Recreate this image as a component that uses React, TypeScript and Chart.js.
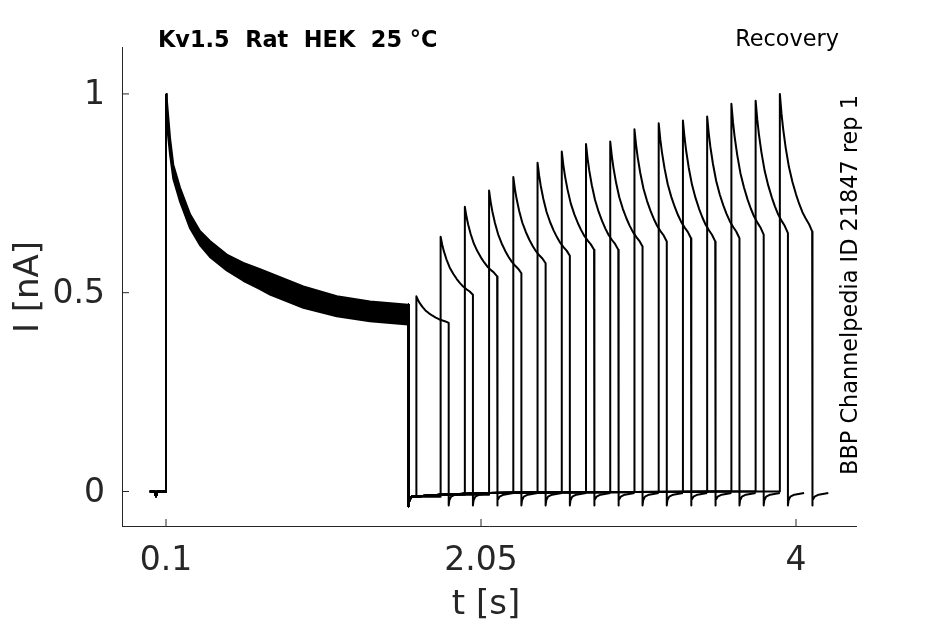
import { useEffect, useRef } from "react"
import { Chart, registerables } from "chart.js"

Chart.register(...registerables)

const FONT = "'DejaVu Sans', sans-serif"
const INK = "#262626"

// axis ticks
const xTicks = [0.1, 2.05, 4]
const yTicks = [0, 0.5, 1]

// holding level before the conditioning pulse (t in s, I in nA)
const preT = [0, 0.03, 0.038, 0.046, 0.1]
const preI = [0, 0, -0.012, 0, 0]

// conditioning pulse: upper and lower edge of the band made by all sweeps
const mainT = [0.1, 0.104, 0.125, 0.145, 0.187, 0.249, 0.31, 0.372, 0.476, 0.579, 0.682, 0.744, 0.95, 1.157, 1.363, 1.598]
const mainTop = [1.0, 0.99, 0.889, 0.822, 0.764, 0.697, 0.655, 0.63, 0.596, 0.575, 0.559, 0.549, 0.516, 0.491, 0.478, 0.47]
const mainBottom = [1.0, 0.93, 0.848, 0.787, 0.729, 0.662, 0.62, 0.59, 0.556, 0.53, 0.509, 0.495, 0.462, 0.441, 0.428, 0.42]
const mainEnd = 1.6

// tail after the conditioning pulse and the slow return of the baseline
const recovT = [1.6, 1.606, 1.62, 1.8, 2.1, 2.5, 3.0, 3.5, 4.0]
const recovI = [-0.037, -0.022, -0.013, -0.008, -0.004, -0.002, -0.001, 0, 0]

// test pulses, one per sweep
const testStart = [1.65, 1.8, 1.95, 2.1, 2.25, 2.4, 2.55, 2.7, 2.85, 3.0, 3.15, 3.3, 3.45, 3.6, 3.75, 3.9]
const testPeak = [0.491, 0.641, 0.716, 0.757, 0.791, 0.827, 0.855, 0.874, 0.88, 0.911, 0.926, 0.933, 0.943, 0.975, 0.983, 1.0]
const testEnd = [0.424, 0.495, 0.541, 0.549, 0.574, 0.593, 0.608, 0.608, 0.616, 0.629, 0.637, 0.629, 0.637, 0.646, 0.65, 0.654]
const testDur = 0.2

// decay during a test pulse: part of (peak - end) left, against part of the pulse
const profT = [0, 0.05, 0.1, 0.18, 0.28, 0.39, 0.5, 0.6, 0.7, 0.81, 0.9, 1.0]
const profF = [1, 0.86, 0.75, 0.61, 0.47, 0.36, 0.27, 0.2, 0.14, 0.09, 0.055, 0]

// tail after a test pulse, time from the pulse end
const tailT = [0, 0.004, 0.015, 0.04, 0.1]
const tailI = [-0.035, -0.022, -0.013, -0.008, -0.004]

type Pt = { x: number; y: number | null }

function sweepPoints(k: number): Pt[] {
  const pts: Pt[] = []
  preT.forEach((t, i) => pts.push({ x: t, y: preI[i] }))
  pts.push({ x: mainT[0], y: mainTop[0] })
  // the conditioning pulse itself is the filled band
  pts.push({ x: mainT[1], y: null })
  pts.push({ x: mainEnd, y: mainTop[mainTop.length - 1] })

  const start = testStart[k]
  let last = recovI[0]
  recovT.forEach((t, i) => {
    if (t < start) {
      pts.push({ x: t, y: recovI[i] })
      last = recovI[i]
    }
  })
  pts.push({ x: start, y: last })
  const peak = testPeak[k]
  const end = testEnd[k]
  profT.forEach((f, i) => pts.push({ x: start + f * testDur, y: end + profF[i] * (peak - end) }))
  const stop = start + testDur
  tailT.forEach((t, i) => pts.push({ x: stop + t, y: tailI[i] }))
  return pts
}

const decor = {
  id: "decor",
  afterDraw(chart: Chart) {
    const { ctx, chartArea: a, scales } = chart
    ctx.save()
    ctx.strokeStyle = INK
    ctx.lineWidth = 1
    ctx.beginPath()
    xTicks.forEach((v) => {
      const px = scales.x.getPixelForValue(v)
      ctx.moveTo(px, a.bottom)
      ctx.lineTo(px, a.bottom - 7)
    })
    yTicks.forEach((v) => {
      const py = scales.y.getPixelForValue(v)
      ctx.moveTo(a.left, py)
      ctx.lineTo(a.left + 7, py)
    })
    ctx.stroke()

    ctx.fillStyle = "#000"
    ctx.textBaseline = "alphabetic"
    ctx.font = `bold 22.4px ${FONT}`
    ctx.textAlign = "left"
    ctx.fillText("Kv1.5  Rat  HEK  25 °C", 158, 47)
    ctx.font = `22.4px ${FONT}`
    ctx.textAlign = "right"
    ctx.fillText("Recovery", 839, 46)

    ctx.save()
    ctx.translate(857, 285)
    ctx.rotate(-Math.PI / 2)
    ctx.textAlign = "center"
    ctx.fillText("BBP Channelpedia ID 21847 rep 1", 0, 0)
    ctx.restore()

    ctx.fillStyle = INK
    ctx.font = `34px ${FONT}`
    ctx.textAlign = "center"
    ctx.fillText("t [s]", 486, 614)
    ctx.save()
    ctx.translate(38, 287)
    ctx.rotate(-Math.PI / 2)
    ctx.fillText("I [nA]", 0, 0)
    ctx.restore()
    ctx.restore()
  },
}

export default function App() {
  const chartRef = useRef<HTMLCanvasElement>(null)
  const chartInstance = useRef<Chart | null>(null)

  useEffect(() => {
    if (!chartRef.current) return
    if (chartInstance.current) chartInstance.current.destroy()

    const line = {
      borderColor: "#000",
      borderWidth: 2,
      pointRadius: 0,
      tension: 0,
      borderJoinStyle: "round" as const,
      fill: false,
    }

    const datasets: any[] = [
      {
        ...line,
        data: mainT.map((t, i) => ({ x: t, y: mainTop[i] })),
        fill: "+1",
        backgroundColor: "#000",
      },
      {
        ...line,
        data: mainT.map((t, i) => ({ x: t, y: mainBottom[i] })),
      },
      ...testStart.map((_, k) => ({ ...line, data: sweepPoints(k) })),
    ]

    chartInstance.current = new Chart(chartRef.current, {
      type: "line",
      data: { datasets },
      plugins: [decor],
      options: {
        responsive: false,
        animation: false,
        events: [],
        layout: { padding: { left: 0, right: 89, top: 47, bottom: 0 } },
        plugins: {
          legend: { display: false },
          tooltip: { enabled: false },
        },
        scales: {
          x: {
            type: "linear",
            min: -0.1724,
            max: 4.3714,
            grid: { display: false, drawTicks: false },
            border: { display: true, color: INK, width: 1 },
            afterBuildTicks: (scale) => {
              scale.ticks = xTicks.map((v) => ({ value: v }))
            },
            afterFit: (scale) => {
              scale.height = 98
            },
            ticks: {
              autoSkip: false,
              maxRotation: 0,
              padding: 16,
              color: INK,
              font: { family: FONT, size: 33 },
              callback: (v) => String(v),
            },
          },
          y: {
            type: "linear",
            min: -0.0868,
            max: 1.118,
            grid: { display: false, drawTicks: false },
            border: { display: true, color: INK, width: 1 },
            afterBuildTicks: (scale) => {
              scale.ticks = yTicks.map((v) => ({ value: v }))
            },
            afterFit: (scale) => {
              scale.width = 122
            },
            ticks: {
              autoSkip: false,
              padding: 17,
              labelOffset: 2,
              color: INK,
              font: { family: FONT, size: 33 },
              callback: (v) => String(v),
            },
          },
        },
      },
    })

    return () => {
      if (chartInstance.current) {
        chartInstance.current.destroy()
        chartInstance.current = null
      }
    }
  }, [])

  return (
    <div style={{ position: "fixed", left: 0, top: 0, width: 945, height: 624, background: "#fff" }}>
      <canvas ref={chartRef} width={945} height={624} />
    </div>
  )
}
